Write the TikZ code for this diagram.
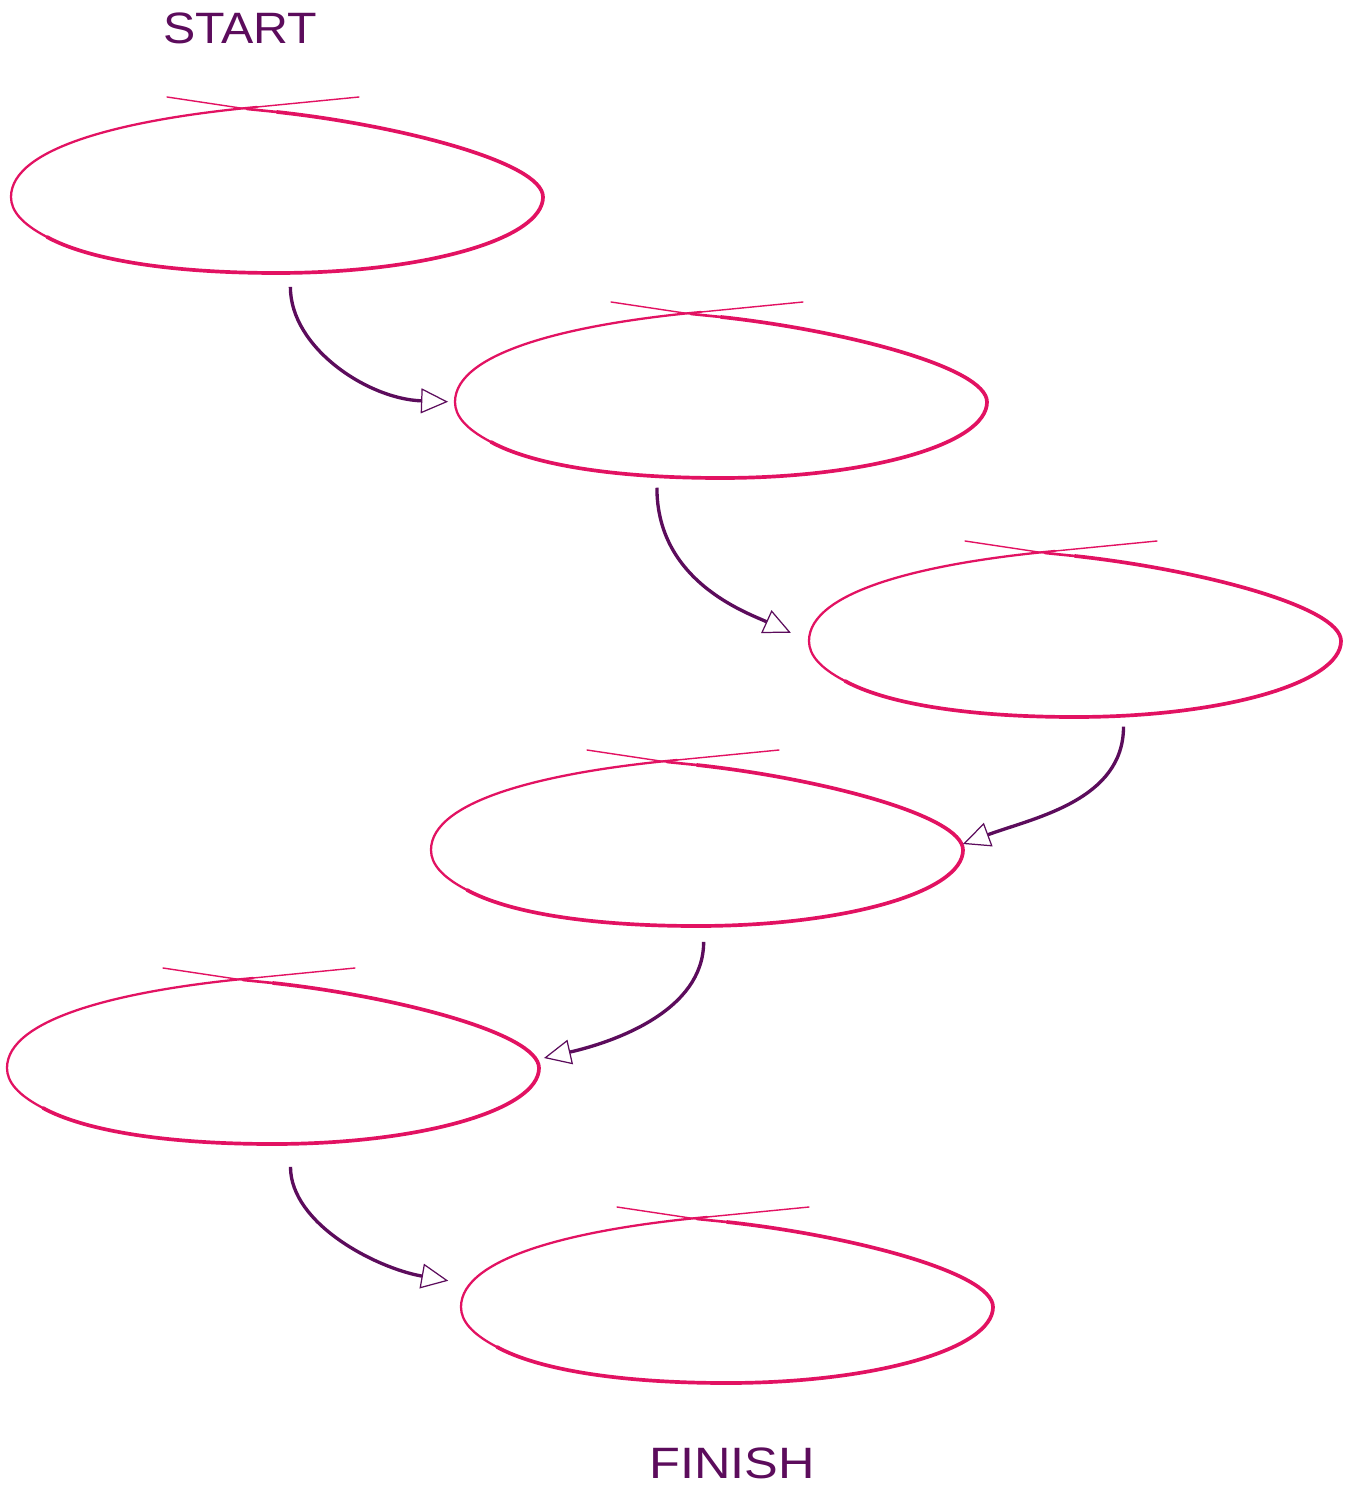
\documentclass[tikz,border=0pt]{standalone}
\usepackage{fontspec}
\setmainfont{Liberation Sans}
\usetikzlibrary{shapes.geometric, arrows.meta}
\definecolor{ovalpink}{RGB}{226,18,98}
\definecolor{flowpurple}{RGB}{92,12,92}

\begin{document}
\begin{tikzpicture}[
    x=0.02cm, y=0.02cm,
    stage/.style={ellipse, minimum width=10.64cm, minimum height=3.04cm, inner sep=0pt, outer sep=0pt},
    flow/.style={draw=flowpurple, line width=1.9pt, -{Triangle[open, length=0.54cm, width=0.5cm, line width=0.7pt]}},
    endtext/.style={text=flowpurple, font=\fontsize{25}{28}\selectfont},
    oval/.pic={
        \draw[ovalpink, line width=0.8pt, line cap=round] (-110,100) -- (-30,88);
        \draw[ovalpink, line width=1.5pt, line cap=round] (-30,88) -- (0,85);
        \draw[ovalpink, line width=2.1pt, line cap=round] (0,85) .. controls (120,72) and (266,35) .. (266,0)
            .. controls (266,-42) and (147,-76) .. (0,-76)
            .. controls (-110,-76) and (-190,-62) .. (-230,-40);
        \draw[ovalpink, line width=1.3pt, line cap=round] (-230,-40) .. controls (-255,-27) and (-266,-14) .. (-266,0)
            .. controls (-266,50) and (-150,78) .. (-20,90);
        \draw[ovalpink, line width=0.8pt, line cap=round] (-20,90) -- (82,100);
    }
]
\useasboundingbox (0,0) rectangle (1354,-1486);

% Labels
\node[endtext, xscale=1.1] (start) at (240,-28) {START};
\node[endtext, xscale=1.15] (finish) at (732,-1463) {FINISH};

% Stages
\node[stage] (s1) at (277,-197) {};
\node[stage] (s2) at (721,-402) {};
\node[stage] (s3) at (1075,-641) {};
\node[stage] (s4) at (697,-850) {};
\node[stage] (s5) at (273,-1068) {};
\node[stage] (s6) at (727,-1307) {};

\pic at (s1.center) {oval};
\pic at (s2.center) {oval};
\pic at (s3.center) {oval};
\pic at (s4.center) {oval};
\pic at (s5.center) {oval};
\pic at (s6.center) {oval};

% Flow arrows
\draw[flow, shorten <=0.28cm, shorten >=0.14cm] (s1.-80) .. controls +(0,-75) and +(-87,3) .. (s2.west);
\draw[flow, shorten <=0.24cm, shorten >=0.4cm] (s2.-131) .. controls +(0,-105) and +(-64,29) .. (s3.west);
\draw[flow, shorten <=0.22cm] (s3.-57) .. controls +(0,-85) and +(70,26) .. ([yshift=0.12cm]s4.east);
\draw[flow, shorten <=0.32cm] (s4.-85) .. controls +(0,-85) and +(70,16) .. ([xshift=0.1cm, yshift=0.2cm]s5.east);
\draw[flow, shorten <=0.46cm, shorten >=0.26cm] (s5.-77) .. controls +(0,-80) and +(-85,15) .. ([yshift=0.48cm]s6.west);

\end{tikzpicture}
\end{document}
